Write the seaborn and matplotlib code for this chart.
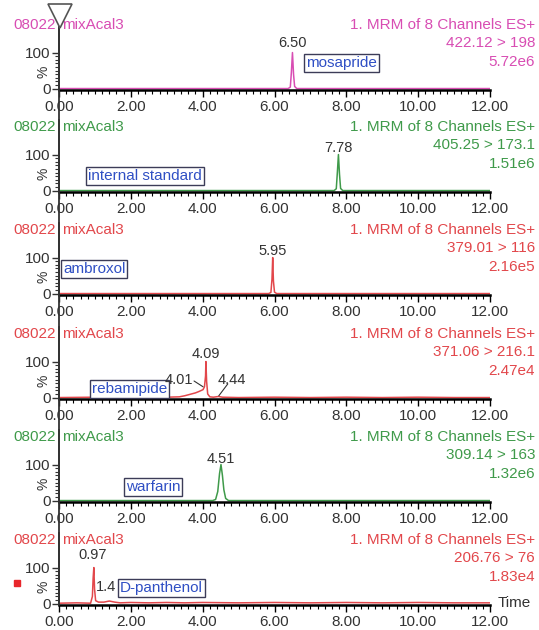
import matplotlib
matplotlib.use("Agg")
import matplotlib.pyplot as plt
import seaborn as sns
from matplotlib.lines import Line2D
from matplotlib.ticker import FixedLocator, MultipleLocator

sns.set_style("white")
plt.rcParams["font.family"] = ["Liberation Sans", "DejaVu Sans"]

# ---------------- data ----------------
sample_name = "08022"
sample_suffix = "mixAcal3"
scan_title = "1. MRM of 8 Channels ES+"
compounds = ["mosapride", "internal standard", "ambroxol", "rebamipide", "warfarin", "D-panthenol"]
transitions = ["422.12 > 198", "405.25 > 173.1", "379.01 > 116", "371.06 > 216.1", "309.14 > 163", "206.76 > 76"]
intensities = ["5.72e6", "1.51e6", "2.16e5", "2.47e4", "1.32e6", "1.83e4"]
x_ticks = [0, 2, 4, 6, 8, 10, 12]
x_tick_labels = ["0.00", "2.00", "4.00", "6.00", "8.00", "10.00", "12.00"]
y_ticks = [0, 100]
y_tick_labels = ["0", "100"]

t_mosapride = [0.00, 6.38, 6.44, 6.47, 6.50, 6.53, 6.56, 6.62, 12.00]
i_mosapride = [0, 0, 4, 45, 100, 40, 6, 0, 0]

t_istd = [0.00, 7.66, 7.72, 7.75, 7.78, 7.81, 7.84, 7.90, 12.00]
i_istd = [0, 0, 5, 50, 100, 45, 6, 0, 0]

t_ambroxol = [0.00, 5.84, 5.90, 5.93, 5.95, 5.97, 6.00, 6.06, 12.00]
i_ambroxol = [0, 0, 3, 40, 100, 35, 4, 0, 0]

t_rebamipide = [0.00, 1.0, 2.0, 3.0, 3.35, 3.5, 3.65, 3.8, 3.9, 4.01, 4.05, 4.08, 4.09, 4.11,
                4.14, 4.2, 4.3, 4.44, 4.55, 5.0, 6.0, 7.0, 8.0, 9.0, 10.0, 11.0, 12.00]
i_rebamipide = [0, 1, 0, 1, 2, 5, 9, 13, 17, 22, 30, 60, 100, 45,
                10, 2, 1, 3, 1, 0, 1, 0, 1, 0, 1, 0, 0]

t_warfarin = [0.00, 4.28, 4.36, 4.42, 4.47, 4.51, 4.55, 4.59, 4.64, 4.72, 12.00]
i_warfarin = [0, 0, 3, 25, 75, 100, 70, 30, 6, 0, 0]

t_panthenol = [0.00, 0.5, 0.88, 0.93, 0.95, 0.97, 0.99, 1.02, 1.1, 1.25, 1.4, 1.55, 1.7, 2.0,
               2.5, 3.0, 3.5, 4.0, 5.0, 6.0, 7.0, 8.0, 9.0, 10.0, 11.0, 12.00]
i_panthenol = [1, 2, 1, 20, 70, 100, 40, 8, 4, 4, 7, 4, 2, 3,
               2, 3, 2, 3, 2, 3, 2, 3, 2, 3, 2, 2]

traces = [(t_mosapride, i_mosapride), (t_istd, i_istd), (t_ambroxol, i_ambroxol),
          (t_rebamipide, i_rebamipide), (t_warfarin, i_warfarin), (t_panthenol, i_panthenol)]

# peak annotations: (text, time, y-value of label centre)
peak_labels = [
    [("6.50", 6.50, 127)],
    [("7.78", 7.78, 118)],
    [("5.95", 5.95, 118)],
    [("4.09", 4.09, 121)],
    [("4.51", 4.51, 115)],
    [("0.97", 0.93, 135)],
]

# ---------------- style / layout ----------------
MAGENTA = "#d84db3"
GREEN = "#3f9a4a"
RED = "#e2474b"
colors = [MAGENTA, GREEN, RED, RED, GREEN, RED]
BLUE = "#2f4fc4"
BOXEDGE = "#3c3c58"
TXT = "#333333"

W, H = 539, 630
fig = plt.figure(figsize=(W / 100, H / 100), dpi=100)
fig.patch.set_facecolor("white")

zero_px = [90, 192, 295, 399, 502, 605]
left_px, right_px = 59, 490
ax_h_px = 72
box_pos = [(6.88, 71), (0.81, 40), (0.11, 68), (0.92, 24), (1.87, 38), (1.70, 43)]


def fx(px):
    return px / W


def fy(py):
    return 1 - py / H


for k in range(6):
    y0 = zero_px[k]
    c = colors[k]
    ax = fig.add_axes([fx(left_px), fy(y0), (right_px - left_px) / W, ax_h_px / H])
    t, inten = traces[k]
    sns.lineplot(x=t, y=inten, ax=ax, color=c, lw=1.1, sort=True, estimator=None)
    ax.set_xlim(0, 12)
    ax.set_ylim(-4, 196)
    ax.set_facecolor("none")
    for s in ["top", "right"]:
        ax.spines[s].set_visible(False)
    ax.spines["bottom"].set_color("black")
    ax.spines["bottom"].set_linewidth(1.8)
    ax.spines["left"].set_color(TXT)
    ax.spines["left"].set_linewidth(1.3)
    ax.xaxis.set_major_locator(FixedLocator(x_ticks))
    ax.set_xticklabels(x_tick_labels)
    ax.xaxis.set_minor_locator(MultipleLocator(0.2))
    ax.yaxis.set_major_locator(FixedLocator(y_ticks))
    ax.set_yticklabels(y_tick_labels)
    ax.yaxis.set_minor_locator(FixedLocator(list(range(0, 101, 10))))
    ax.tick_params(axis="x", which="major", direction="out", length=5, width=1.0,
                   color="black", labelsize=11, labelcolor=TXT, pad=2, bottom=True)
    ax.tick_params(axis="x", which="minor", direction="out", length=3, width=0.8,
                   color="black", bottom=True)
    ax.tick_params(axis="y", which="major", direction="out", length=5, width=1.0,
                   color=TXT, labelsize=11, labelcolor=TXT, pad=1, left=True)
    ax.tick_params(axis="y", which="minor", direction="out", length=3, width=0.8,
                   color=TXT, left=True)
    ax.set_xlabel("")
    ax.set_ylabel("")
    ax.grid(False)

    # peak labels
    for txt, pt, py in peak_labels[k]:
        ax.text(pt, py, txt, ha="center", va="center", fontsize=10.5, color=TXT)

    # compound box
    bx, by = box_pos[k]
    ax.text(bx, by, compounds[k], ha="left", va="center", fontsize=11, color=BLUE,
            bbox=dict(boxstyle="square,pad=0.12", fc="white", ec=BOXEDGE, lw=1.0))

    # % label
    fig.text(fx(44), fy(y0 - 18), "%", rotation=90, ha="center", va="center",
             fontsize=10, color=TXT)

    # headers
    fig.text(fx(56), fy(y0 - 65), sample_name, ha="right", va="center", fontsize=11, color=c)
    fig.text(fx(62), fy(y0 - 65), sample_suffix, ha="left", va="center", fontsize=11, color=c)
    fig.text(fx(535), fy(y0 - 65), scan_title, ha="right", va="center", fontsize=11, color=c)
    fig.text(fx(535), fy(y0 - 47), transitions[k], ha="right", va="center", fontsize=11, color=c)
    fig.text(fx(535), fy(y0 - 28), intensities[k], ha="right", va="center", fontsize=11, color=c)

    if k == 3:
        ax.text(3.73, 50, "4.01", ha="right", va="center", fontsize=10.5, color=TXT)
        ax.plot([3.76, 4.01], [46, 30], color=TXT, lw=0.8)
        ax.text(4.80, 50, "4.44", ha="center", va="center", fontsize=10.5, color=TXT)
        ax.plot([4.70, 4.45], [38, 5], color=TXT, lw=0.8)
    if k == 5:
        ax.text(1.04, 45, "1.4", ha="left", va="center", fontsize=10.5, color=TXT)
        ax.text(12.2, 2, "Time", ha="left", va="center", fontsize=11, color=TXT,
                clip_on=False)

# continuous vertical axis line and cursor triangle
fig.add_artist(Line2D([fx(left_px), fx(left_px)], [fy(18), fy(zero_px[-1])],
                      color=TXT, lw=1.3))
fig.add_artist(Line2D([fx(60)], [fy(16)], marker="v", markersize=17,
                      markerfacecolor="white", markeredgecolor="#555555",
                      markeredgewidth=1.2, linestyle="none"))
# red square marker at lower left
fig.add_artist(Line2D([fx(17)], [fy(zero_px[-1] - 22)], marker="s", markersize=5,
                      markerfacecolor="#e8262b", markeredgecolor="#e8262b",
                      linestyle="none"))

fig.savefig("out.png", dpi=100, facecolor="white")
